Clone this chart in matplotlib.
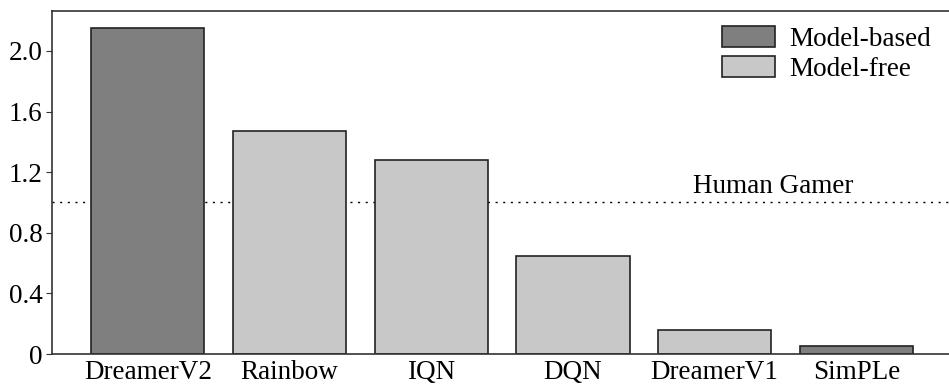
import matplotlib.pyplot as plt

plt.rcParams['font.family'] = ['Liberation Serif', 'DejaVu Serif']

# data
models = ['DreamerV2', 'Rainbow', 'IQN', 'DQN', 'DreamerV1', 'SimPLe']
scores = [2.15, 1.47, 1.28, 0.647, 0.158, 0.053]
kinds = ['Model-based', 'Model-free', 'Model-free', 'Model-free', 'Model-free', 'Model-based']
yticks = [0, 0.4, 0.8, 1.2, 1.6, 2.0]
ytick_labels = ['0', '0.4', '0.8', '1.2', '1.6', '2.0']
human_level = 1.0

COLORS = {'Model-based': '#7f7f7f', 'Model-free': '#c8c8c8'}
FS = 19.5

fig = plt.figure(figsize=(9.49, 3.88), dpi=100)
ax = fig.add_axes([52 / 949, 1 - 354 / 388, 1 - 52 / 949 + 0.01, (354 - 11) / 388])

x = list(range(len(models)))
ax.axhline(human_level, color='black', linestyle=(0, (1.5, 4)), linewidth=1.0, zorder=1)
ax.bar(x, scores, width=0.8, color=[COLORS[k] for k in kinds],
       edgecolor='#222222', linewidth=1.2, zorder=2)
ax.text(4.41, human_level + 0.025, 'Human Gamer', ha='center', va='bottom', fontsize=FS)

# legend handles
for k in ['Model-based', 'Model-free']:
    ax.bar([0], [0], color=COLORS[k], edgecolor='#222222', linewidth=1.2, label=k)
ax.legend(loc='upper right', bbox_to_anchor=(0.997, 1.027), frameon=False, fontsize=FS,
          handlelength=1.95, handleheight=0.8, labelspacing=0.15, handletextpad=0.55)

ax.set_xlim(-0.676, 5.64 + 0.08)
ax.set_ylim(0, 2.264)
ax.set_yticks(yticks)
ax.set_yticklabels(ytick_labels)
ax.set_xticks(x)
ax.set_xticklabels(models)
ax.tick_params(axis='x', length=0, labelsize=FS, pad=4)
ax.tick_params(axis='y', length=4, labelsize=FS, pad=3, color='#333333')
ax.spines['right'].set_visible(False)
for s in ['left', 'top', 'bottom']:
    ax.spines[s].set_linewidth(1.2)
    ax.spines[s].set_color('#333333')

fig.savefig('out.png', dpi=100)
